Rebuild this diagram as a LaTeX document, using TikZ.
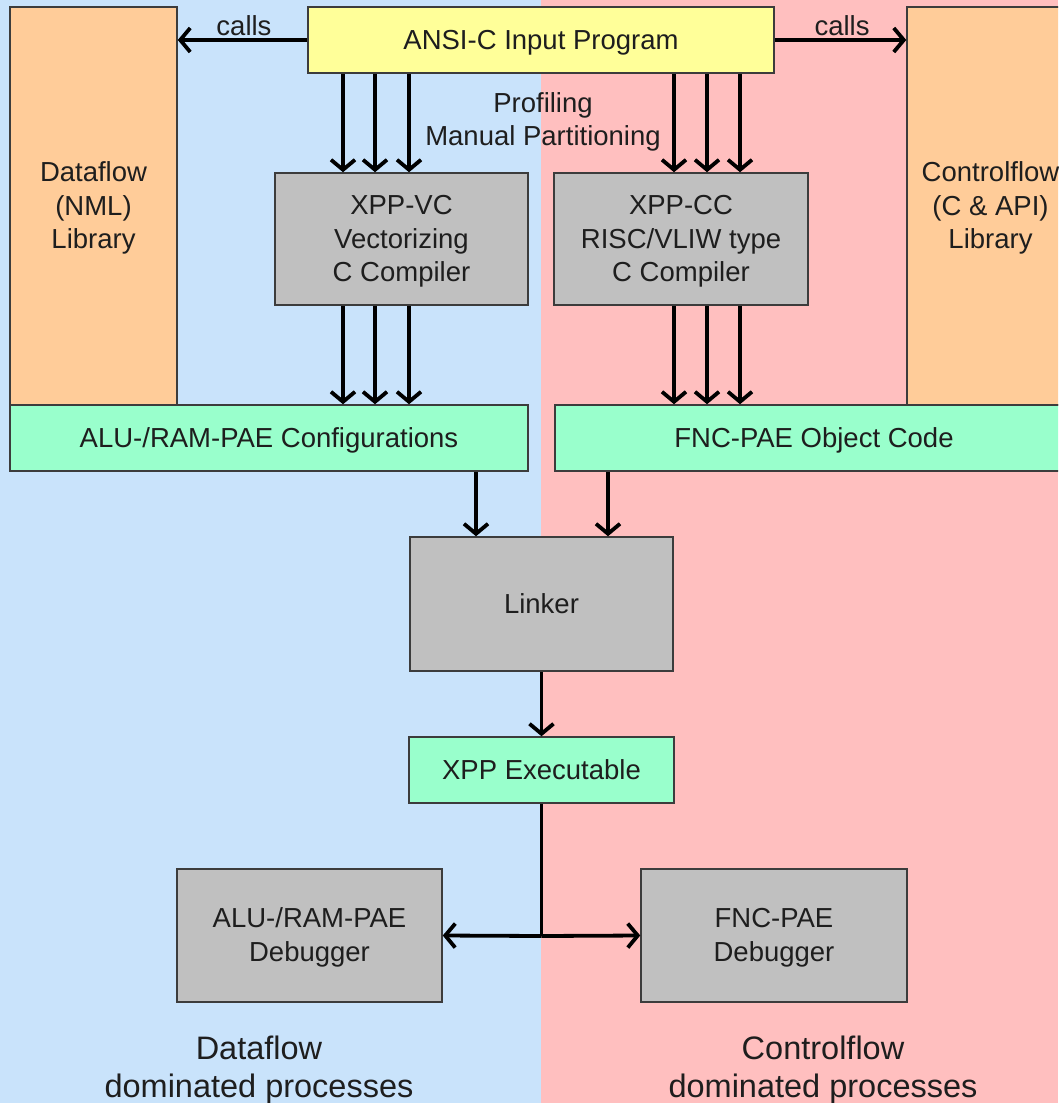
\documentclass[tikz,border=0pt]{standalone}
\usepackage{fontspec}
\setmainfont{Liberation Sans}
\usetikzlibrary{arrows.meta}
\definecolor{bgblue}{RGB}{201,227,251}
\definecolor{bgpink}{RGB}{255,191,191}
\definecolor{boxgray}{RGB}{192,192,192}
\definecolor{boxgreen}{RGB}{153,255,204}
\definecolor{boxorange}{RGB}{255,204,153}
\definecolor{boxyellow}{RGB}{255,255,153}
\definecolor{edge}{RGB}{60,60,60}
\definecolor{txt}{RGB}{30,30,30}
\newcommand\bx[1]{\raisebox{-2.5pt}[\height][\depth]{\begin{tabular}{@{}c@{}}#1\end{tabular}}}
\begin{document}
\begin{tikzpicture}[x=1pt,y=-1pt,
  box/.style={draw=edge,line width=1.5pt,inner sep=0pt,text=txt,
    font=\fontsize{27.5}{33.5}\selectfont},
  lbl/.style={inner sep=0pt,text=txt,font=\fontsize{27.5}{33.5}\selectfont},
  biglbl/.style={inner sep=0pt,text=txt,font=\fontsize{32.5}{38}\selectfont},
  arr/.style={line width=3.8pt,-{Straight Barb[length=10pt,width=24pt]}},
  ln/.style={line width=3.8pt}]
\useasboundingbox (0,0) rectangle (1058,1103);
\clip (0,0) rectangle (1058,1103);
\fill[bgblue] (0,0) rectangle (541,1103);
\fill[bgpink] (541,0) rectangle (1058,1103);

\node[box,fill=boxorange,minimum width=167pt,minimum height=398pt] (dlib) at (93.5,206) {\bx{Dataflow\\(NML)\\Library}};
\node[box,fill=boxorange,minimum width=167pt,minimum height=398pt] (clib) at (990.5,206) {\bx{Controlflow\\(C \& API)\\Library}};
\node[box,fill=boxyellow,minimum width=466pt,minimum height=66pt] (ansi) at (541,40) {\bx{ANSI-C Input Program}};
\node[box,fill=boxgray,minimum width=253pt,minimum height=132pt] (vc) at (401.5,239) {\bx{XPP-VC\\Vectorizing\\C Compiler}};
\node[box,fill=boxgray,minimum width=254pt,minimum height=132pt] (cc) at (681,239) {\bx{XPP-CC\\RISC/VLIW type\\C Compiler}};
\node[box,fill=boxgreen,minimum width=518pt,minimum height=66pt] (aluc) at (269,438) {\bx{ALU-/RAM-PAE Configurations}};
\node[box,fill=boxgreen,minimum width=518pt,minimum height=66pt] (fnco) at (814,438) {\bx{FNC-PAE Object Code}};
\node[box,fill=boxgray,minimum width=263pt,minimum height=134pt] (linker) at (541.5,604) {\bx{Linker}};
\node[box,fill=boxgreen,minimum width=265pt,minimum height=66pt] (exe) at (541.5,770) {\bx{XPP Executable}};
\node[box,fill=boxgray,minimum width=265pt,minimum height=133pt] (ald) at (309.5,935.5) {\bx{ALU-/RAM-PAE\\Debugger}};
\node[box,fill=boxgray,minimum width=266pt,minimum height=133pt] (fnd) at (774,935.5) {\bx{FNC-PAE\\Debugger}};

\node[lbl] (callsl) at (244,26) {\bx{calls}};
\node[lbl] (callsr) at (842,26) {\bx{calls}};
\node[lbl] (prof) at (543,120) {\bx{Profiling\\Manual Partitioning}};
\node[biglbl] (dfl) at (259,1068) {\bx{Dataflow\\dominated processes}};
\node[biglbl] (cfl) at (823,1068) {\bx{Controlflow\\dominated processes}};

\draw[arr] (ansi.west) -- (ansi.west -| dlib.east);
\draw[arr] (ansi.east) -- (ansi.east -| clib.west);

\coordinate (a1) at (343,0);
\coordinate (a2) at (375,0);
\coordinate (a3) at (409,0);
\coordinate (b1) at (674,0);
\coordinate (b2) at (707,0);
\coordinate (b3) at (740,0);
\foreach \c in {a1,a2,a3}{
  \draw[arr] (ansi.south -| \c) -- (vc.north -| \c);
  \draw[arr] (vc.south -| \c) -- (aluc.north -| \c);
}
\foreach \c in {b1,b2,b3}{
  \draw[arr] (ansi.south -| \c) -- (cc.north -| \c);
  \draw[arr] (cc.south -| \c) -- (fnco.north -| \c);
}
\coordinate (l1) at (476,0);
\coordinate (l2) at (608,0);
\draw[arr] (aluc.south -| l1) -- (linker.north -| l1);
\draw[arr] (fnco.south -| l2) -- (linker.north -| l2);
\draw[arr] (linker.south) -- (exe.north);
\coordinate (br) at (541.5,936);
\draw[ln] (exe.south) -- (br);
\draw[arr] (br) -- (ald.east);
\draw[arr] (br) -- (fnd.west);
\end{tikzpicture}
\end{document}
